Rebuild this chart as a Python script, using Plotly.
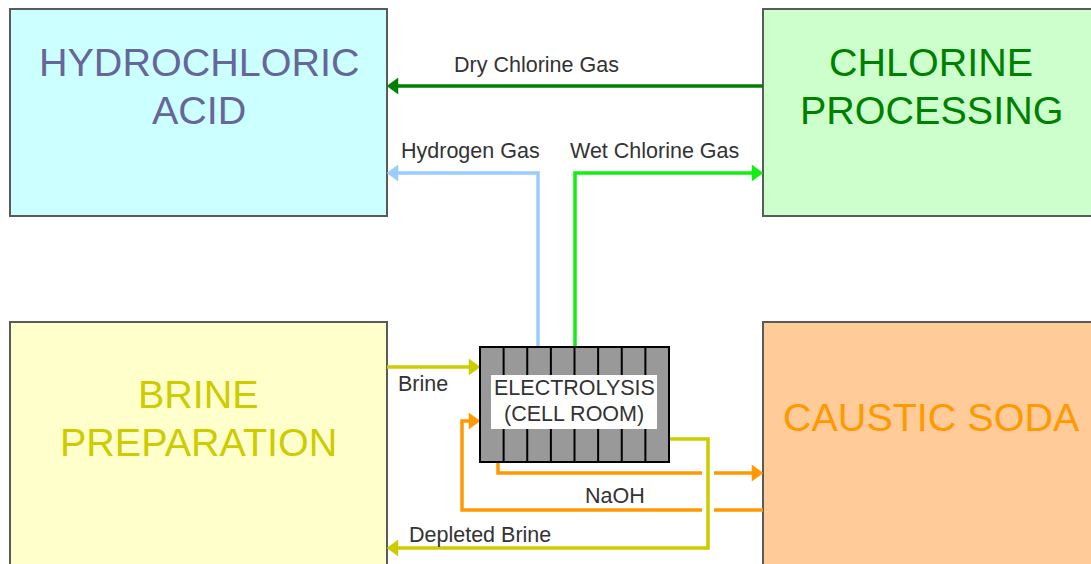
import plotly.graph_objects as go

# ---- Diagram content ----
box_ids = ["hcl", "chlorine", "brine", "caustic"]
box_x0 = [10, 763, 10, 763]
box_x1 = [387, 1100, 387, 1100]
box_y0 = [9, 9, 322, 322]
box_y1 = [216, 216, 580, 580]
box_fill = ["#ccffff", "#ccffcc", "#ffffcc", "#ffcc99"]
box_text_color = ["#666699", "#008000", "#cccc00", "#ff9900"]
box_lines = [["HYDROCHLORIC", "ACID"], ["CHLORINE", "PROCESSING"],
             ["BRINE", "PREPARATION"], ["CAUSTIC SODA"]]
box_line_y = [[62, 110], [62, 110], [394, 442], [417]]

cell_box = dict(x0=480, x1=669, y0=347, y1=462)
cell_count = 8
cell_label_box = dict(x0=491, x1=657, y0=375, y1=429)
cell_lines = ["ELECTROLYSIS", "(CELL ROOM)"]
cell_line_y = [388, 414]

flow_names = ["Dry Chlorine Gas", "Hydrogen Gas", "Wet Chlorine Gas", "Brine",
              "NaOH out", "NaOH return", "Depleted Brine"]
flow_colors = ["#008000", "#99ccff", "#11ee11", "#cccc00",
               "#ff9900", "#ff9900", "#cccc00"]
flow_paths = [
    [(763, 86), (387, 86)],
    [(538, 347), (538, 173), (387, 173)],
    [(575, 347), (575, 173), (763, 173)],
    [(387, 367), (480, 367)],
    [(498, 462), (498, 473), (763, 473)],
    [(763, 510), (462, 510), (462, 421), (480, 421)],
    [(669, 439), (708, 439), (708, 548), (387, 548)],
]
label_texts = ["Dry Chlorine Gas", "Hydrogen Gas", "Wet Chlorine Gas", "Brine",
               "NaOH", "Depleted Brine"]
label_x = [536, 470, 654, 423, 615, 480]
label_y = [65, 151, 151, 384, 496, 535]

# crossing gaps (where depleted brine crosses NaOH lines)
gap_x = 708
gap_y = [473, 510]

FONT = "Liberation Sans, Arial, sans-serif"
LW = 3.5
AL, AW = 11, 8  # arrow length, half-width

fig = go.Figure()
shapes = []
annotations = []

# boxes
for i in range(len(box_ids)):
    shapes.append(dict(type="rect", x0=box_x0[i], x1=box_x1[i], y0=box_y0[i], y1=box_y1[i],
                       fillcolor=box_fill[i], line=dict(color="#5a5a5a", width=2), layer="below"))
    for t, yy in zip(box_lines[i], box_line_y[i]):
        cx = (box_x0[i] + min(box_x1[i], 1099)) / 2
        annotations.append(dict(x=cx, y=yy, text=t, showarrow=False, xanchor="center", yanchor="middle",
                                font=dict(family=FONT, size=39.5, color=box_text_color[i])))


def flow_shapes(pts, color):
    out = []
    (xa, ya), (xb, yb) = pts[-2], pts[-1]
    dx = (xb > xa) - (xb < xa)
    dy = (yb > ya) - (yb < ya)
    bx, by = xb - dx * AL, yb - dy * AL
    line_pts = pts[:-1] + [(bx + dx * 1, by + dy * 1)]
    d = "M " + " L ".join(f"{x},{y}" for x, y in line_pts)
    out.append(dict(type="path", path=d, line=dict(color=color, width=LW)))
    px, py = -dy, dx
    tri = (f"M {xb},{yb} L {bx + px * AW},{by + py * AW} L {bx - px * AW},{by - py * AW} Z")
    out.append(dict(type="path", path=tri, fillcolor=color, line=dict(color=color, width=0.5)))
    return out


# flows (yellow depleted brine last, with gaps in orange lines)
for i in range(len(flow_names) - 1):
    shapes += flow_shapes(flow_paths[i], flow_colors[i])
for gy in gap_y:
    shapes.append(dict(type="rect", x0=gap_x - 6, x1=gap_x + 6, y0=gy - 3, y1=gy + 3,
                       fillcolor="white", line=dict(width=0)))
shapes += flow_shapes(flow_paths[-1], flow_colors[-1])

# electrolysis cell
shapes.append(dict(type="rect", **cell_box, fillcolor="#999999", line=dict(color="black", width=2)))
cw = (cell_box["x1"] - cell_box["x0"]) / cell_count
for k in range(1, cell_count):
    xx = cell_box["x0"] + k * cw
    shapes.append(dict(type="line", x0=xx, x1=xx, y0=cell_box["y0"], y1=cell_box["y1"],
                       line=dict(color="black", width=2)))
shapes.append(dict(type="rect", **cell_label_box, fillcolor="white", line=dict(width=0)))
for t, yy in zip(cell_lines, cell_line_y):
    annotations.append(dict(x=(cell_label_box["x0"] + cell_label_box["x1"]) / 2, y=yy, text=t,
                            showarrow=False, xanchor="center", yanchor="middle",
                            font=dict(family=FONT, size=21.5, color="#333333")))

for t, xx, yy in zip(label_texts, label_x, label_y):
    annotations.append(dict(x=xx, y=yy, text=t, showarrow=False, xanchor="center", yanchor="middle",
                            font=dict(family=FONT, size=21.5, color="#333333")))

fig.update_layout(
    width=1091, height=564,
    margin=dict(l=0, r=0, t=0, b=0),
    paper_bgcolor="white", plot_bgcolor="white",
    xaxis=dict(range=[0, 1091], visible=False, fixedrange=True),
    yaxis=dict(range=[564, 0], visible=False, fixedrange=True),
    shapes=shapes, annotations=annotations, showlegend=False,
)

fig.write_html("out.html", config={"displayModeBar": False},
               post_script="document.body.style.margin='0';document.body.style.overflow='hidden';")
